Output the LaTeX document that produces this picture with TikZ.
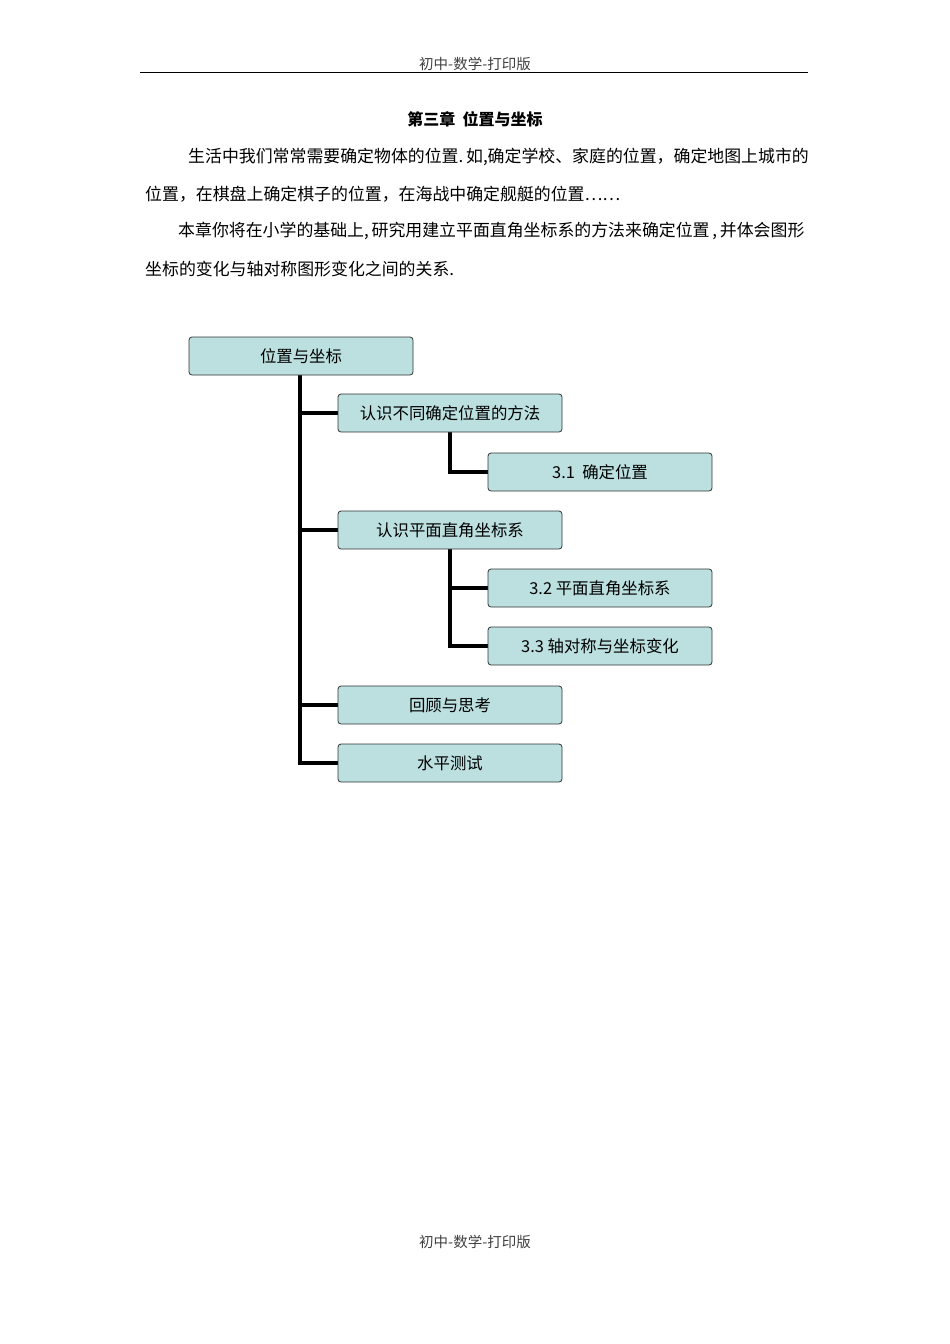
\documentclass[tikz,border=0pt]{standalone}
\usepackage{fontspec}
\setmainfont{Noto Sans CJK SC}
\usetikzlibrary{calc}
\definecolor{boxc}{HTML}{BCE0E0}
\begin{document}
\begin{tikzpicture}[x=1pt,y=-1pt,
  box/.style={draw=black!80,line width=0.8pt,fill=boxc,rounded corners=3pt,minimum width=224pt,minimum height=38pt,font=\fontsize{16.4}{18}\selectfont,inner sep=0pt},
  txt/.style={anchor=west,inner sep=0pt,font=\fontsize{16.9}{18}\selectfont},
  conn/.style={line width=3.6pt}]
\useasboundingbox (0,0) rectangle (950,1344);
\node[font=\fontsize{14.5}{16}\selectfont,text=black!75] (hd) at (475,64) {初中-数学-打印版};
\draw[line width=0.9pt] (140,72) -- (808,72);
\node[font=\fontsize{16}{18}\selectfont\bfseries] (ti) at (475,119) {第三章\ \ 位置与坐标};
\node[txt] (p1) at (188,157) {生活中我们常常需要确定物体的位置.\,如,确定学校、家庭的位置，确定地图上城市的};
\node[txt] (p2) at (145,194) {位置，在棋盘上确定棋子的位置，在海战中确定舰艇的位置……};
\node[txt] (p3) at (178,231) {本章你将在小学的基础上,\,研究用建立平面直角坐标系的方法来确定位置\,,\,并体会图形};
\node[txt] (p4) at (145,269) {坐标的变化与轴对称图形变化之间的关系.};
\coordinate (tr) at (300,375);
\coordinate (br1) at (450,432);
\coordinate (br2) at (450,549);
\coordinate (e4) at (340,763);
\coordinate (e3) at (340,705);
\coordinate (e2) at (340,530);
\coordinate (e1) at (340,413);
\coordinate (f1) at (490,472);
\coordinate (f2) at (490,588);
\coordinate (f3) at (490,646);
\draw[conn] (tr) |- (e4);
\draw[conn] (tr |- e1) -- (e1);
\draw[conn] (tr |- e2) -- (e2);
\draw[conn] (tr |- e3) -- (e3);
\draw[conn] (br1) |- (f1);
\draw[conn] (br2) |- (f3);
\draw[conn] (br2 |- f2) -- (f2);
\node[box] (top) at (301,356) {位置与坐标};
\node[box] (a1) at (450,413) {认识不同确定位置的方法};
\node[box] (b1) at (600,472) {3.1\ \ 确定位置};
\node[box] (a2) at (450,530) {认识平面直角坐标系};
\node[box] (b2) at (600,588) {3.2 平面直角坐标系};
\node[box] (b3) at (600,646) {3.3 轴对称与坐标变化};
\node[box] (a3) at (450,705) {回顾与思考};
\node[box] (a4) at (450,763) {水平测试};
\node[font=\fontsize{14.5}{16}\selectfont,text=black!75] (ft) at (475,1242) {初中-数学-打印版};
\end{tikzpicture}
\end{document}
